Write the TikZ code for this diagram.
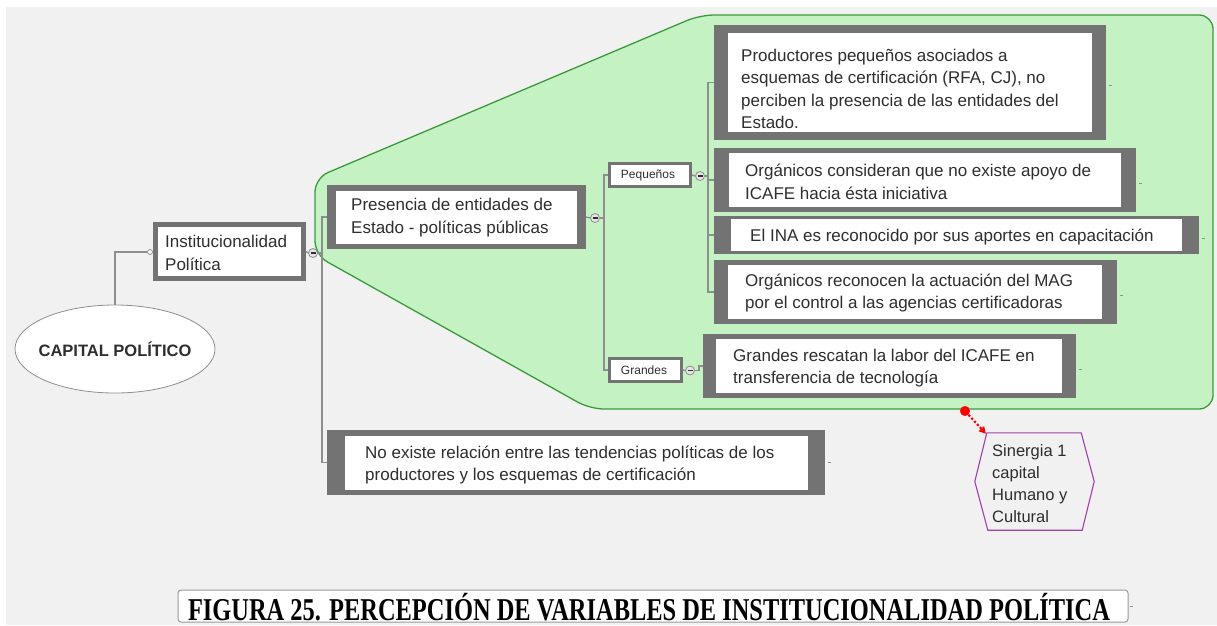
\documentclass[tikz,border=0pt]{standalone}
\usepackage{fontspec}
\setmainfont{Liberation Sans}
\newfontfamily\capfont{Liberation Serif}
\usetikzlibrary{shapes.geometric,arrows.meta,fit,calc}
\definecolor{bg}{HTML}{F1F1F1}
\definecolor{frame}{HTML}{737373}
\definecolor{gfill}{HTML}{C4F2C2}
\definecolor{gline}{HTML}{3A9A3A}
\definecolor{lnk}{HTML}{8E8E8E}
\definecolor{txt}{HTML}{2E2E2E}
\definecolor{hexc}{HTML}{A040A8}
\definecolor{capline}{HTML}{9A9A9A}
\begin{document}
\begin{tikzpicture}[x=1pt,y=-1pt,
 conn/.style={draw=lnk, line width=1.3},
 frameb/.style={fill=frame, draw=none, inner sep=0pt},
 innerb/.style={fill=white, draw=none, inner sep=0pt},
 tx/.style={text=txt, align=left, anchor=west, inner sep=0pt, font=\fontsize{17}{22.5}\selectfont},
 minus/.style={circle, draw=lnk, fill=white!90!black, minimum size=9pt, inner sep=0pt, line width=0.8,
   path picture={\draw[line width=1.4, txt] ([xshift=-2.5pt]path picture bounding box.center) -- ([xshift=2.5pt]path picture bounding box.center);}},
 stub/.style={draw=lnk, line width=0.9},
 smallb/.style={draw=frame, line width=3, fill=white, inner sep=0pt},
 smalltx/.style={text=txt, inner sep=0pt, font=\fontsize{12}{14}\selectfont}
]
% background
\useasboundingbox (0,0) rectangle (1217,625);
\fill[white] (0,0) rectangle (1217,625);
\fill[bg] (6,7) rectangle (1217,625);

% green region
\draw[gline, fill=gfill, line width=1.3, rounded corners=14]
  (315,255) -- (315,178) -- (700,15) -- (1213,15) -- (1213,409) -- (590,409) -- cycle;

% ellipse
\node[ellipse, draw=lnk, fill=white, line width=0.8, minimum width=200pt, minimum height=88pt, inner sep=0pt] (cap) at (115,349) {};
\node[text=txt, inner sep=0pt, font=\bfseries\fontsize{16.5}{20}\selectfont] (cap-t) at (cap.center) {CAPITAL POLÍTICO};
\node[circle, draw=lnk, fill=white, minimum size=5pt, inner sep=0pt, line width=0.8] (oc) at (150,252) {};
\draw[conn] (cap.north) |- (oc.west);

% Institucionalidad
\node[frameb, fit={(153,222) (306,281)}] (inst) {};
\node[innerb, fit={(158,227) (301,276)}] (inst-in) {};
\node[tx] (inst-t) at (165,253) {Institucionalidad\\Política};
\draw[conn] (oc.east) -- (inst.west);
\node[minus] (m1) at (313,253) {};
\draw[conn] (inst.east) -- (m1.west);

% Presencia
\node[frameb, fit={(327,185) (586,249)}] (pres) {};
\node[innerb, fit={(336,191) (577,244)}] (pres-in) {};
\node[tx, font=\fontsize{17}{23}\selectfont] (pres-t) at (351,218) {Presencia de entidades de\\Estado - políticas públicas};

% No existe
\node[frameb, fit={(327,430) (825,495)}] (noex) {};
\node[innerb, fit={(345,436) (808,490)}] (noex-in) {};
\node[tx] (noex-t) at (365,465) {No existe relación entre las tendencias políticas de los\\productores y los esquemas de certificación};

\draw[conn] (m1.east) -- ++(4,0) |- (pres.west);
\draw[conn] (m1.east) -- ++(4,0) |- (noex.west);
\draw[stub] ($(noex.east)+(3,0)$) -- ++(3,0);

% Presencia minus
\node[minus] (m2) at (595,218) {};
\draw[conn] (pres.east) -- (m2.west);

% Pequenos / Grandes
\node[smallb, fit={(609.5,163.5) (690.5,186.5)}] (peq) {};
\node[smalltx] (peq-t) at (648,175) {Pequeños};
\node[smallb, fit={(609.5,358.5) (681.5,381.5)}] (gra) {};
\node[smalltx] (gra-t) at (644,370) {Grandes};
\draw[conn] (m2.east) -- ++(4,0) |- (peq.west);
\draw[conn] (m2.east) -- ++(4,0) |- (gra.west);

\node[minus] (m3) at (700,176) {};
\draw[conn] (peq.east) -- (m3.west);
\node[minus] (m4) at (690,370.5) {};
\draw[conn] (gra.east) -- (m4.west);

% Boxes under Pequenos
\node[frameb, fit={(714,25) (1106,140)}] (b1) {};
\node[innerb, fit={(728,33) (1092,132)}] (b1-in) {};
\node[tx] (b1-t) at (741,89) {Productores pequeños asociados a\\esquemas de certificación (RFA, CJ), no\\perciben la presencia de las entidades del\\Estado.};

\node[frameb, fit={(714,148) (1136,212)}] (b2) {};
\node[innerb, fit={(729,153) (1121,207)}] (b2-in) {};
\node[tx] (b2-t) at (745,182) {Orgánicos consideran que no existe apoyo de\\ICAFE hacia ésta iniciativa};

\node[frameb, fit={(714,216) (1199,254)}] (b3) {};
\node[innerb, fit={(731,219) (1182,251)}] (b3-in) {};
\node[tx] (b3-t) at (750,237) {El INA es reconocido por sus aportes en capacitación};

\node[frameb, fit={(714,260) (1117,324)}] (b4) {};
\node[innerb, fit={(728,265) (1102,319)}] (b4-in) {};
\node[tx] (b4-t) at (745,293) {Orgánicos reconocen la actuación del MAG\\por el control a las agencias certificadoras};

\foreach \b in {b1,b2,b3,b4}{
  \draw[conn] (m3.east) -- ++(3,0) |- (\b.west);
}

% Grandes box
\node[frameb, fit={(703,334) (1076,398)}] (g1) {};
\node[innerb, fit={(716,339) (1062,393)}] (g1-in) {};
\node[tx] (g1-t) at (733,368) {Grandes rescatan la labor del ICAFE en\\transferencia de tecnología};
\draw[conn] (m4.east) -- ++(4,0) |- (g1.west);

% stubs
\foreach \b in {b1,b2,b3,b4,g1}{
  \draw[stub] ($(\b.east)+(3,3)$) -- ++(3,0);
}

% hexagon
\node[minimum width=119pt, minimum height=97pt, inner sep=0pt] (hex) at (1034.5,481.5) {};
\draw[hexc, line width=1.1] (hex.west) -- ([xshift=12pt]hex.north west) -- ([xshift=-13pt]hex.north east)
   -- (hex.east) -- ([xshift=-12pt]hex.south east) -- ([xshift=13pt]hex.south west) -- cycle;
\node[tx, font=\fontsize{16.5}{22}\selectfont] (hex-t) at (992,484) {Sinergia 1\\capital\\Humano y\\Cultural};

% red link
\node[circle, fill=red, minimum size=10pt, inner sep=0pt] (rdot) at (965,411) {};
\draw[red, dotted, line width=2.2, -{Triangle[length=7pt,width=7pt]}] (rdot) -- ([shift={(-1pt,-1pt)}]hex.north west -| 987,433);

% caption
\node[draw=capline, fill=white, rounded corners=3pt, line width=1, fit={(178,590) (1128,622)}, inner sep=0pt] (capbox) {};
\node[inner sep=0pt] (cap-t) at (649,607) {\resizebox{922pt}{!}{\scalebox{1}[1.3]{\capfont\bfseries FIGURA 25. PERCEPCIÓN DE VARIABLES DE INSTITUCIONALIDAD POLÍTICA}}};
\draw[stub] ($(capbox.east)+(1,0)$) -- ++(3,0);
\end{tikzpicture}
\end{document}
